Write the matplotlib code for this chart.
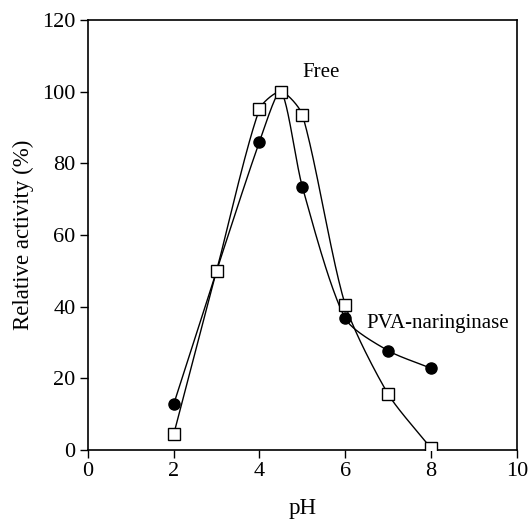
import numpy as np
import matplotlib
matplotlib.use('Agg')
import matplotlib.pyplot as plt

# 读取的数据
ph = [2, 3, 4, 4.5, 5, 6, 7, 8]
pva_activity = [12.8, 50, 86, 100, 73.4, 36.7, 27.7, 22.8]
free_activity = [4.4, 50, 95.1, 100, 93.5, 40.5, 15.6, 0.5]


def smooth(x, y, sx=42.9, sy=3.58, s=0.75, n=40):
    # Hermite 平滑线（像素尺度，切线按弦长缩放），只用来画线
    P = np.column_stack([np.asarray(x, float) * sx, np.asarray(y, float) * sy])
    k = len(P)
    d = np.linalg.norm(np.diff(P, axis=0), axis=1)
    T = np.zeros_like(P)
    for i in range(k):
        if i == 0:
            T[i] = P[1] - P[0]
        elif i == k - 1:
            T[i] = P[-1] - P[-2]
        else:
            T[i] = (P[i + 1] - P[i - 1]) / (d[i - 1] + d[i])
    u = np.linspace(0, 1, n)[:, None]
    h00 = 2 * u**3 - 3 * u**2 + 1
    h10 = u**3 - 2 * u**2 + u
    h01 = -2 * u**3 + 3 * u**2
    h11 = u**3 - u**2
    out = []
    for i in range(k - 1):
        L = d[i]
        m0 = T[i] * (L if 0 < i else 1.0) * s
        m1 = T[i + 1] * (L if i + 1 < k - 1 else 1.0) * s
        out.append(h00 * P[i] + h10 * m0 + h01 * P[i + 1] + h11 * m1)
    out = np.vstack(out)
    return out[:, 0] / sx, out[:, 1] / sy


plt.rcParams['font.family'] = ['Liberation Serif', 'DejaVu Serif']

fig = plt.figure(figsize=(5.3, 5.22), dpi=100)
ax = fig.add_axes([0.166, 0.138, 0.809, 0.824])

cx, cy = smooth(ph, pva_activity)
ax.plot(cx, cy, color='black', lw=1.0)
cx, cy = smooth(ph, free_activity)
ax.plot(cx, cy, color='black', lw=1.0)

ax.plot(ph, pva_activity, 'o', color='black', ms=8, zorder=3)
ax.plot(ph, free_activity, 's', mfc='white', mec='black', mew=1.0, ms=9, zorder=4)

ax.text(5.0, 104, 'Free', fontsize=15)
ax.text(6.5, 34, 'PVA-naringinase', fontsize=15)

ax.set_xlim(0, 10)
ax.set_ylim(0, 120)
ax.set_xticks(np.arange(0, 11, 2))
ax.set_yticks(np.arange(0, 121, 20))
ax.tick_params(direction='out', length=6, width=1, pad=3, labelsize=16,
               top=False, right=False)
for s in ax.spines.values():
    s.set_linewidth(1.2)
ax.set_xlabel('pH', fontsize=16.5, labelpad=12)
ax.set_ylabel('Relative activity (%)', fontsize=16.5, labelpad=6)

plt.savefig('out.png', dpi=100)
